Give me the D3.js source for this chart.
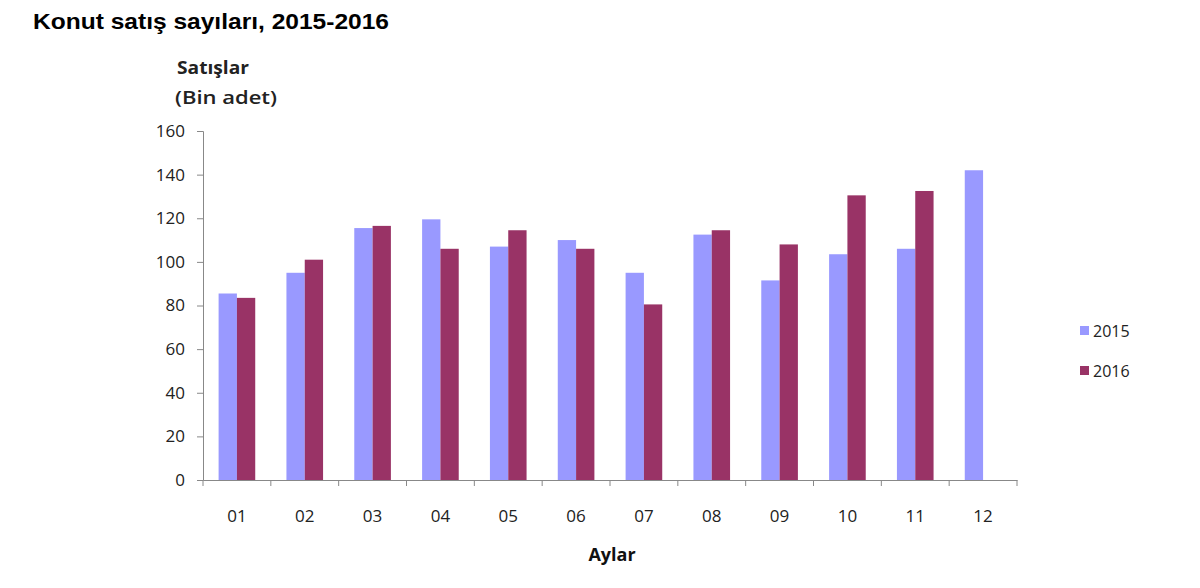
<!DOCTYPE html>
<html><head><meta charset="utf-8">
<script src="https://cdn.jsdelivr.net/npm/d3@7"></script>
<style>body{margin:0;background:#fff}</style>
</head><body>
<script>
const months = ["01","02","03","04","05","06","07","08","09","10","11","12"];
const series = ["2015","2016"];
const values2015 = [85.5, 95, 115.5, 119.5, 107, 110, 95, 112.5, 91.5, 103.5, 106, 142];
const values2016 = [83.5, 101, 116.5, 106, 114.5, 106, 80.5, 114.5, 108, 130.5, 132.5, null];
const yTicks = [0,20,40,60,80,100,120,140,160];
const colors = ["#9999ff","#993366"];

const W=1200,H=588;
const svg=d3.select("body").append("svg").attr("width",W).attr("height",H);
const x0=d3.scaleBand().domain(months).range([203,1017]).paddingInner(0.46).paddingOuter(0.23);
const x1=d3.scaleBand().domain(series).range([0,x0.bandwidth()]);
const y=d3.scaleLinear().domain([0,160]).range([480,131]);
const color=d3.scaleOrdinal().domain(series).range(colors);

svg.append("text").attr("x",33).attr("y",29).attr("font-family","Liberation Sans, Arial").attr("font-weight","bold").attr("font-size",22).attr("fill","#000").attr("textLength",356).attr("lengthAdjust","spacingAndGlyphs").text("Konut satış sayıları, 2015-2016");
svg.append("text").attr("x",177).attr("y",74).attr("font-family","Open Sans").attr("font-weight","bold").attr("font-size",17).attr("fill","#222").attr("textLength",72).attr("lengthAdjust","spacingAndGlyphs").text("Satışlar");
svg.append("text").attr("x",175).attr("y",104).attr("font-family","Open Sans").attr("font-weight","600").attr("font-size",18).attr("fill","#222").attr("textLength",102).attr("lengthAdjust","spacingAndGlyphs").text("(Bin adet)");

const data=months.map((m,i)=>({m,vals:[{s:"2015",v:values2015[i]},{s:"2016",v:values2016[i]}]}));
const g=svg.append("g");
g.selectAll("g.grp").data(data).join("g").attr("transform",d=>`translate(${x0(d.m)},0)`)
 .selectAll("rect").data(d=>d.vals.filter(e=>e.v!=null)).join("rect")
 .attr("x",d=>x1(d.s)).attr("width",x1.bandwidth()).attr("y",d=>y(d.v)).attr("height",d=>y(0)-y(d.v))
 .attr("fill",d=>color(d.s));

// Y axis
const ya=svg.append("g").attr("transform","translate(203,0)").call(d3.axisLeft(y).tickValues(yTicks).tickSize(6).tickPadding(12));
ya.select(".domain").attr("stroke","#888");
ya.selectAll(".tick line").attr("stroke","#888");
ya.selectAll("text").attr("font-family","Open Sans").attr("font-size",17).attr("fill","#222");

// X axis
const xa=svg.append("g").attr("transform","translate(0,480)").call(d3.axisBottom(x0).tickSize(0).tickPadding(30));
xa.select(".domain").attr("stroke","#888");
xa.selectAll("text").attr("font-family","Open Sans").attr("font-size",17).attr("fill","#222");
const bounds=months.map(m=>x0(m)-x0.step()*x0.paddingInner()/2).concat([1017]);
xa.selectAll("line.sep").data(bounds).join("line").attr("class","sep").attr("x1",d=>d).attr("x2",d=>d).attr("y1",0).attr("y2",6).attr("stroke","#888");

svg.append("text").attr("x",612).attr("y",561).attr("text-anchor","middle").attr("font-family","Open Sans").attr("font-weight","bold").attr("font-size",18).attr("fill","#111").text("Aylar");

// Legend
const lg=svg.append("g").selectAll("g").data(series).join("g").attr("transform",(d,i)=>`translate(1080,${331+i*40})`);
lg.append("rect").attr("x",0).attr("y",-5).attr("width",9).attr("height",9).attr("fill",d=>color(d));
lg.append("text").attr("x",13).attr("y",0).attr("dy","0.35em").attr("font-family","Open Sans").attr("font-size",16).attr("fill","#222").text(d=>d);
</script>
</body></html>
